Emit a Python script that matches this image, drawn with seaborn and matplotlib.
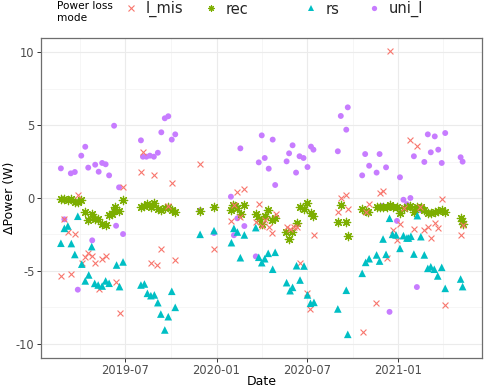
import matplotlib
matplotlib.use("Agg")
import matplotlib.pyplot as plt
from matplotlib.lines import Line2D
import seaborn as sns
import pandas as pd

# ---------------- data ----------------
l_mis_dates = ["2019-02-22","2019-03-01","2019-03-08","2019-03-15","2019-03-22","2019-03-28","2019-04-05","2019-04-12",
               "2019-04-18","2019-04-25","2019-05-02","2019-05-09","2019-05-16","2019-05-23","2019-06-13","2019-06-20",
               "2019-06-27","2019-08-02","2019-08-06","2019-08-22","2019-08-28","2019-09-04","2019-09-12","2019-09-26",
               "2019-10-03","2019-10-10","2019-11-29","2019-12-27","2020-01-31","2020-02-05","2020-02-12","2020-02-18",
               "2020-02-26","2020-03-20","2020-03-26","2020-04-02","2020-04-07","2020-04-15","2020-04-22","2020-04-29",
               "2020-05-21","2020-05-28","2020-06-05","2020-06-11","2020-06-17","2020-07-01","2020-07-08","2020-07-15",
               "2020-09-01","2020-09-08","2020-09-18","2020-09-21","2020-10-21","2020-10-27","2020-11-03","2020-11-17",
               "2020-11-24","2020-12-01","2020-12-08","2020-12-14","2020-12-20","2020-12-29","2021-01-04","2021-01-12",
               "2021-01-25","2021-02-01","2021-02-08","2021-02-13","2021-02-22","2021-03-01","2021-03-08","2021-03-15",
               "2021-03-22","2021-03-29","2021-04-05","2021-05-06","2021-05-10"]
l_mis_vals = [-5.34,-1.46,-2.31,-5.23,-2.49,0.22,-4.47,-4.06,
              -3.79,-3.97,-4.43,-6.26,-4.20,-3.97,-5.77,-7.85,
              0.78,1.80,3.13,-4.47,1.55,-4.59,-3.52,-0.52,
              1.00,-4.25,2.31,-3.49,-1.58,-0.45,0.39,-1.28,
              0.64,-1.64,-0.42,-1.93,-1.51,-2.02,-2.42,-1.11,
              -2.02,-2.11,-1.96,-2.02,-4.42,-6.50,-7.60,-2.53,
              -0.96,-0.02,0.22,-0.73,-9.16,-0.94,-0.39,-7.21,
              0.32,0.48,-4.13,10.07,-2.21,-2.88,-1.80,-0.71,
              3.95,-2.12,3.58,-0.59,-2.22,-1.96,-2.76,-1.68,
              -2.05,-0.10,-7.33,-2.51,-1.88]

rec_dates = ["2019-02-22","2019-03-01","2019-03-08","2019-03-14","2019-03-22","2019-03-28","2019-04-04","2019-04-12",
             "2019-04-18","2019-04-25","2019-05-01","2019-05-08","2019-05-16","2019-05-23","2019-05-30","2019-06-04",
             "2019-06-09","2019-06-11","2019-06-18","2019-06-27",
             "2019-08-02","2019-08-09","2019-08-15","2019-08-22","2019-08-29","2019-09-05","2019-09-12","2019-09-19",
             "2019-09-26","2019-10-03","2019-10-10",
             "2019-11-29","2019-12-27","2020-01-31","2020-02-04","2020-02-07","2020-02-12","2020-02-19","2020-02-26",
             "2020-03-20","2020-03-27","2020-04-02","2020-04-07","2020-04-14","2020-04-22","2020-04-27","2020-05-20",
             "2020-05-26","2020-06-01","2020-06-10","2020-06-17","2020-06-24","2020-07-02","2020-07-09","2020-07-14",
             "2020-09-01","2020-09-08","2020-09-18","2020-09-21","2020-10-20","2020-10-27","2020-11-01","2020-11-18",
             "2020-11-24","2020-12-01","2020-12-08","2020-12-15","2020-12-20","2020-12-29","2021-01-04","2021-01-12",
             "2021-01-19","2021-01-24","2021-02-01","2021-02-08","2021-02-15","2021-02-22","2021-03-02","2021-03-08",
             "2021-03-15","2021-03-21","2021-03-30","2021-04-05","2021-05-06","2021-05-08","2021-05-10"]
rec_vals = [-0.07,-0.09,-0.16,-0.10,-0.28,-0.24,-0.16,-0.98,
            -1.53,-1.08,-1.46,-1.46,-1.80,-1.85,-1.18,-1.08,
            -0.92,-0.62,-0.90,-0.17,
            -0.60,-0.53,-0.42,-0.62,-0.36,-0.76,-0.80,-0.68,
            -0.63,-0.85,-0.93,
            -0.87,-0.60,-0.80,-0.45,-0.57,-0.68,-1.07,-0.50,
            -1.08,-1.42,-1.78,-1.20,-0.85,-1.48,-1.35,-2.31,
            -2.80,-2.36,-1.73,-0.65,-0.77,-0.36,-1.03,-1.21,
            -1.62,-0.50,-1.62,-2.62,-0.75,-0.89,-0.98,-0.64,
            -0.64,-0.64,-0.59,-0.48,-0.59,-0.64,-1.00,-0.68,
            -0.59,-0.55,-0.98,-0.64,-0.59,-0.85,-1.05,-1.00,
            -0.98,-0.89,-0.82,-0.94,-1.39,-1.58,-1.78]

rs_dates = ["2019-02-22","2019-03-01","2019-03-08","2019-03-15","2019-03-22","2019-03-28","2019-04-05","2019-04-12",
            "2019-04-19","2019-04-25","2019-05-01","2019-05-08","2019-05-16","2019-05-23","2019-05-30","2019-06-14",
            "2019-06-20","2019-06-27",
            "2019-08-02","2019-08-09","2019-08-15","2019-08-22","2019-08-29","2019-09-05","2019-09-11","2019-09-19",
            "2019-09-26","2019-10-03","2019-10-10",
            "2019-11-29","2019-12-27","2020-01-31","2020-02-05","2020-02-12","2020-02-18","2020-02-26","2020-03-20",
            "2020-03-26","2020-04-01","2020-04-07","2020-04-14","2020-04-23","2020-04-28","2020-05-21","2020-05-28",
            "2020-06-02","2020-06-10","2020-06-17","2020-06-25","2020-07-02","2020-07-08","2020-07-15",
            "2020-09-01","2020-09-18","2020-09-21","2020-10-20","2020-10-27","2020-11-03","2020-11-18","2020-11-24",
            "2020-12-01","2020-12-07","2020-12-14","2020-12-20","2020-12-27","2021-01-04","2021-01-11","2021-01-18",
            "2021-01-21","2021-01-26","2021-02-01","2021-02-08","2021-02-15","2021-02-22","2021-03-01","2021-03-07",
            "2021-03-14","2021-03-21","2021-03-29","2021-04-05","2021-05-06","2021-05-10"]
rs_vals = [-3.10,-2.08,-1.92,-3.12,-3.87,-1.25,-4.53,-5.68,
           -5.27,-3.33,-5.85,-5.96,-6.03,-5.68,-5.84,-4.59,
           -6.07,-4.38,
           -5.96,-5.89,-6.53,-6.69,-6.64,-7.17,-7.95,-9.04,
           -8.13,-6.39,-7.49,
           -2.49,-2.24,-3.06,-2.08,-2.33,-4.09,-2.53,-2.03,
           -4.06,-4.43,-4.16,-3.79,-4.88,-3.72,-5.80,-6.35,
           -6.12,-4.64,-5.62,-4.66,-6.64,-7.21,-7.15,
           -7.60,-6.32,-9.34,-5.16,-4.41,-4.16,-3.90,-4.32,
           -2.81,-3.86,-1.39,-2.49,-2.53,-3.45,-2.58,-2.74,
           -2.74,-2.62,-3.84,-1.21,-2.65,-3.90,-4.82,-4.71,
           -4.88,-5.34,-4.75,-6.19,-5.55,-6.07]

uni_l_dates = ["2019-02-22","2019-03-01","2019-03-14","2019-03-22","2019-03-28","2019-04-04","2019-04-12","2019-04-18",
               "2019-04-26","2019-05-02","2019-05-09","2019-05-16","2019-05-23","2019-05-30","2019-06-09","2019-06-13",
               "2019-06-19","2019-06-27",
               "2019-08-02","2019-08-06","2019-08-13","2019-08-20","2019-08-28","2019-09-05","2019-09-12","2019-09-19",
               "2019-09-26","2019-10-03","2019-10-10",
               "2019-11-29","2019-12-27","2020-01-30","2020-02-05","2020-02-12","2020-02-18","2020-02-26","2020-03-20",
               "2020-03-26","2020-04-01","2020-04-07","2020-04-15","2020-04-23","2020-04-28","2020-05-21","2020-05-26",
               "2020-06-02","2020-06-09","2020-06-16","2020-06-24","2020-07-02","2020-07-09","2020-07-14",
               "2020-09-01","2020-09-07","2020-09-18","2020-09-21","2020-10-20","2020-10-26","2020-11-03","2020-11-18",
               "2020-11-24","2020-11-30","2020-12-07","2020-12-14","2020-12-29","2021-01-04","2021-01-11","2021-01-18",
               "2021-01-25","2021-02-01","2021-02-07","2021-02-15","2021-02-22","2021-03-01","2021-03-07","2021-03-15",
               "2021-03-22","2021-03-29","2021-04-05","2021-05-06","2021-05-10"]
uni_l_vals = [2.03,-1.46,1.69,1.78,-6.28,2.90,3.51,2.08,
              -2.90,2.28,1.80,2.40,2.31,1.55,4.95,-1.90,
              0.73,-2.47,
              3.95,2.83,2.83,2.90,2.83,3.10,4.50,5.46,
              5.60,4.00,4.36,
              -0.85,-2.40,0.09,-2.55,-1.39,3.40,-1.92,-4.00,
              2.44,4.29,2.74,2.01,4.00,0.89,2.51,3.06,
              3.61,1.74,2.86,2.74,2.12,3.52,3.31,
              3.20,5.62,4.68,6.21,1.55,3.01,2.21,1.74,
              3.01,-0.55,2.10,-7.80,-1.57,1.42,-0.12,-0.42,
              0.00,2.86,-6.10,-0.83,2.47,4.36,3.13,4.22,
              3.31,2.40,4.45,2.79,2.49]

mode_names = ["l_mis", "rec", "rs", "uni_l"]
x_major = ["2019-07-01", "2020-01-01", "2020-07-01", "2021-01-01"]
x_major_labels = ["2019-07", "2020-01", "2020-07", "2021-01"]
x_minor = ["2019-04-01", "2019-10-01", "2020-04-01", "2020-10-01", "2021-04-01"]
y_major = [-10, -5, 0, 5, 10]
y_minor = [-7.5, -2.5, 2.5, 7.5]

# ---------------- style ----------------
sns.set_theme(style="white")
plt.rcParams['font.family'] = ['DejaVu Sans']

colors = {"l_mis": "#F8766D", "rec": "#7CAE00", "rs": "#00BFC4", "uni_l": "#C77CFF"}
markers = {"l_mis": "x", "rec": (8, 2, 0), "rs": "^", "uni_l": "o"}

W, H = 484, 388
fig = plt.figure(figsize=(W / 100, H / 100), dpi=100)
fig.patch.set_facecolor("white")
L, R, T, B = 41, 482, 38, 358
ax = fig.add_axes([L / W, 1 - B / H, (R - L) / W, (B - T) / H])

data = {
    "l_mis": (l_mis_dates, l_mis_vals),
    "rec": (rec_dates, rec_vals),
    "rs": (rs_dates, rs_vals),
    "uni_l": (uni_l_dates, uni_l_vals),
}

# drawing order: uni_l, rec, l_mis, rs
draw_cfg = {
    "uni_l": dict(s=18, linewidth=0),
    "rec": dict(s=36, linewidth=0.9),
    "l_mis": dict(s=18, linewidth=0.8),
    "rs": dict(s=30, linewidth=0),
}
for name in ["uni_l", "rec", "l_mis", "rs"]:
    d, v = data[name]
    df = pd.DataFrame({"Date": pd.to_datetime(d), "val": v})
    kw = draw_cfg[name]
    if name in ("uni_l", "rs"):
        sns.scatterplot(data=df, x="Date", y="val", ax=ax, color=colors[name],
                        marker=markers[name], s=kw["s"], linewidth=0, edgecolor="none", zorder=3)
    else:
        sns.scatterplot(data=df, x="Date", y="val", ax=ax, color=colors[name],
                        marker=markers[name], s=kw["s"], linewidth=kw["linewidth"],
                        edgecolor=colors[name], zorder=3)

ax.set_xlim(pd.Timestamp("2019-01-13"), pd.Timestamp("2021-06-18"))
ax.set_ylim(-10.96, 10.96)

ax.set_xticks(pd.to_datetime(x_major))
ax.set_xticklabels(x_major_labels)
ax.set_xticks(pd.to_datetime(x_minor), minor=True)
ax.set_yticks(y_major)
ax.set_yticklabels([str(t) for t in y_major])
ax.set_yticks(y_minor, minor=True)

ax.set_axisbelow(True)
ax.grid(which="major", color="#EBEBEB", linewidth=0.8)
ax.grid(which="minor", color="#F3F3F3", linewidth=0.5)
ax.tick_params(which="major", length=2.8, width=0.7, color="#333333",
               labelsize=8.3, labelcolor="#4D4D4D", pad=1.8, bottom=True, left=True)
ax.tick_params(which="minor", length=0)
for sp in ax.spines.values():
    sp.set_color("#6E6E6E")
    sp.set_linewidth(0.9)

ax.set_xlabel("Date", fontsize=9, color="black")
ax.set_ylabel("\u0394Power (W)", fontsize=9, color="black")
ax.xaxis.label.set_va("center")
ax.xaxis.set_label_coords(0.5, -(381.5 - B) / (B - T))
ax.yaxis.label.set_va("center")
ax.yaxis.set_label_coords(-(L - 10) / (R - L), 0.5)

# ---------------- legend ----------------
fig.text(57 / W, 1 - 12 / H, "Power loss\nmode", fontsize=7.6, ha="left", va="center",
         linespacing=1.15, color="black")
leg_x = {"l_mis": 131, "rec": 211, "rs": 311, "uni_l": 374}
leg_ms = {"l_mis": 4, "rec": 4.5, "rs": 4.2, "uni_l": 3.8}
for name in mode_names:
    h = Line2D([], [], linestyle="none", marker=markers[name], color=colors[name],
               markersize=leg_ms[name], markeredgewidth=0.8 if name in ("l_mis", "rec") else 0)
    fs = 10.5
    hl = 1.0
    off = hl * fs * 100 / 72 / 2
    fig.legend(handles=[h], labels=[name], loc="center left",
               bbox_to_anchor=((leg_x[name] - off) / W, 1 - 9 / H),
               frameon=False, fontsize=fs, handlelength=hl, handletextpad=0.5,
               borderpad=0, borderaxespad=0)

fig.savefig("out.png", dpi=100, facecolor="white")
